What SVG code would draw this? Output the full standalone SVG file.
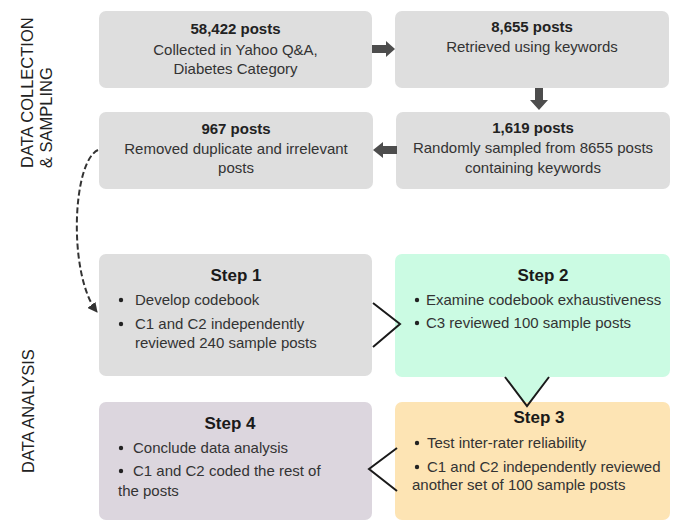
<svg xmlns="http://www.w3.org/2000/svg" width="682" height="521" viewBox="0 0 682 521">
<defs>
<style>
.box{fill:#dedede;}
.t{font-family:"Liberation Sans",Arial,sans-serif;font-size:15px;fill:#333;}
.b{font-family:"Liberation Sans",Arial,sans-serif;font-size:15px;font-weight:bold;fill:#222;}
.h{font-family:"Liberation Sans",Arial,sans-serif;font-size:17px;font-weight:bold;fill:#1a1a1a;}
.lab{font-family:"Liberation Sans",Arial,sans-serif;font-size:16.5px;fill:#222;}
.c{text-anchor:middle;}
.arr{fill:#4d4d4d;}
.chev{fill:none;stroke:#1a1a1a;stroke-width:2;}
.dot{fill:#222;}
</style>
<marker id="ah" viewBox="0 0 10 10" refX="9" refY="5" markerWidth="5" markerHeight="5" orient="auto">
<path d="M0,0 L10,5 L0,10 z" fill="#333"/>
</marker>
</defs>
<rect width="682" height="521" fill="#fff"/>

<g id="labels">
<text class="lab" transform="translate(33,168) rotate(-90)">DATA COLLECTION</text>
<text class="lab" transform="translate(52,168) rotate(-90)">&amp; SAMPLING</text>
<text class="lab" transform="translate(34,473) rotate(-90)">DATA ANALYSIS</text>
</g>

<g id="n1">
<rect class="box" x="99" y="11" width="273" height="77" rx="7"/>
<text class="b c" x="235.5" y="34">58,422 posts</text>
<text class="t c" x="235.5" y="55">Collected in Yahoo Q&amp;A,</text>
<text class="t c" x="235.5" y="74">Diabetes Category</text>
</g>
<g id="n2">
<rect class="box" x="395" y="11" width="274" height="77" rx="7"/>
<text class="b c" x="532" y="32">8,655 posts</text>
<text class="t c" x="532" y="52">Retrieved using keywords</text>
</g>
<g id="n3">
<rect class="box" x="99" y="112" width="274" height="77" rx="7"/>
<text class="b c" x="236" y="134">967 posts</text>
<text class="t c" x="236" y="154">Removed duplicate and irrelevant</text>
<text class="t c" x="236" y="173">posts</text>
</g>
<g id="n4">
<rect class="box" x="396" y="112" width="274" height="77" rx="7"/>
<text class="b c" x="533" y="133">1,619 posts</text>
<text class="t c" x="533" y="153">Randomly sampled from 8655 posts</text>
<text class="t c" x="533" y="173">containing keywords</text>
</g>

<g id="step1">
<rect class="box" x="99" y="254" width="273" height="122" rx="7"/>
<text class="h c" x="236" y="281">Step 1</text>
<circle class="dot" cx="121" cy="300" r="2.2"/>
<text class="t" x="135" y="305">Develop codebook</text>
<circle class="dot" cx="121" cy="324" r="2.2"/>
<text class="t" x="135" y="329">C1 and C2 independently</text>
<text class="t" x="135" y="348">reviewed 240 sample posts</text>
</g>

<g id="step2">
<rect x="395" y="254" width="275" height="123" rx="7" fill="#cbfbe3"/>
<polygon points="505,376 527,406 549,376" fill="#cbfbe3"/>
<text class="h c" x="543" y="281">Step 2</text>
<circle class="dot" cx="417" cy="300" r="2.2"/>
<text class="t" x="426" y="305">Examine codebook exhaustiveness</text>
<circle class="dot" cx="417" cy="323" r="2.2"/>
<text class="t" x="426" y="328">C3 reviewed 100 sample posts</text>
</g>

<g id="step4">
<rect x="99" y="402" width="273" height="118" rx="7" fill="#dcd6de"/>
<text class="h c" x="230" y="429">Step 4</text>
<circle class="dot" cx="121" cy="448" r="2.2"/>
<text class="t" x="133" y="453">Conclude data analysis</text>
<circle class="dot" cx="121" cy="471" r="2.2"/>
<text class="t" x="133" y="476">C1 and C2 coded the rest of</text>
<text class="t" x="118" y="496">the posts</text>
</g>

<g id="step3">
<rect x="395" y="402" width="275" height="118" rx="7" fill="#fde4b4"/>
<text class="h c" x="539" y="423">Step 3</text>
<circle class="dot" cx="417" cy="443" r="2.2"/>
<text class="t" x="427" y="448">Test inter-rater reliability</text>
<circle class="dot" cx="417" cy="467" r="2.2"/>
<text class="t" x="427" y="472">C1 and C2 independently reviewed</text>
<text class="t" x="412" y="490">another set of 100 sample posts</text>
</g>

<g id="connectors">
<polygon class="arr" points="372,45 386,45 386,41 395,49 386,57 386,53 372,53"/>
<polygon class="arr" points="535,88 543,88 543,100 548,100 539,110 530,100 535,100"/>
<polygon class="arr" points="397,146 383,146 383,142 373,150 383,158 383,154 397,154"/>
<path d="M98,150 C72,162 68,275 97,312" fill="none" stroke="#333" stroke-width="2" stroke-dasharray="6,3" marker-end="url(#ah)"/>
<polyline class="chev" points="373,303 400,324 373,347"/>
<polyline class="chev" points="505,377 527,406 549,377"/>
<polyline class="chev" points="397,448 369,469 397,491"/>
</g>
</svg>
